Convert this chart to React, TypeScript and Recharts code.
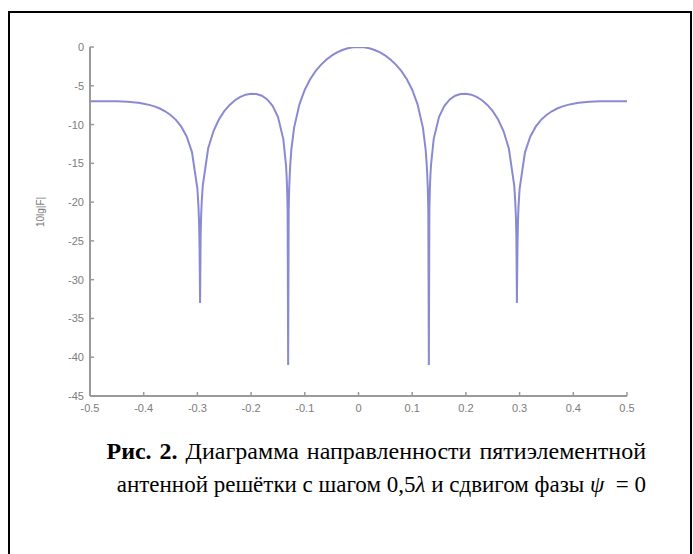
import { LineChart, Line, XAxis, YAxis } from "recharts";

// theta/pi, from -0.5 to 0.5
const xValues = [
  -0.5, -0.49, -0.48, -0.47, -0.46, -0.45, -0.44, -0.43, -0.42, -0.41, -0.4,
  -0.39, -0.38, -0.37, -0.36, -0.35, -0.34, -0.33, -0.32, -0.31, -0.3,
  -0.298, -0.297, -0.296, -0.295, -0.294, -0.293, -0.292,
  -0.29, -0.28, -0.27, -0.26, -0.25, -0.24, -0.23, -0.22, -0.21, -0.2, -0.19,
  -0.18, -0.17, -0.16, -0.15, -0.14,
  -0.135, -0.134, -0.133, -0.132, -0.131, -0.13, -0.129, -0.128, -0.127,
  -0.125, -0.12,
  -0.11, -0.1, -0.09, -0.08, -0.07, -0.06, -0.05, -0.04, -0.03, -0.02, -0.01,
  0, 0.01, 0.02, 0.03, 0.04, 0.05, 0.06, 0.07, 0.08, 0.09, 0.1, 0.11, 0.12,
  0.125, 0.127, 0.128, 0.129, 0.13, 0.131, 0.132, 0.133, 0.134, 0.135,
  0.14, 0.15, 0.16, 0.17, 0.18, 0.19, 0.2, 0.21,
  0.22, 0.23, 0.24, 0.25, 0.26, 0.27, 0.28, 0.29,
  0.292, 0.293, 0.294, 0.295, 0.296, 0.297, 0.298,
  0.3, 0.31, 0.32, 0.33,
  0.34, 0.35, 0.36, 0.37, 0.38, 0.39, 0.4, 0.41, 0.42, 0.43, 0.44, 0.45, 0.46,
  0.47, 0.48, 0.49, 0.5,
];

// 10lg|F|
const levelDb = [
  -6.99, -6.99, -6.99, -6.99, -7.0, -7.01, -7.03, -7.07, -7.12, -7.2, -7.31,
  -7.46, -7.66, -7.93, -8.29, -8.76, -9.39, -10.27, -11.53, -13.58, -18.29,
  -20.55, -22.44, -25.88, -33, -24.39, -21.7, -20.06,
  -17.87, -13.09, -10.83, -9.35, -8.28, -7.47, -6.87, -6.43, -6.15, -6.03, -6.07,
  -6.29, -6.76, -7.59, -9.0, -11.88,
  -15.23, -16.4, -18.1, -21.1, -41, -21.16, -18.1, -16.4, -15.1,
  -13.19, -10.43,
  -7.39, -5.51, -4.16, -3.12, -2.3, -1.64, -1.11, -0.7, -0.39, -0.17, -0.04,
  0, -0.04, -0.17, -0.39, -0.7, -1.11, -1.64, -2.3, -3.12, -4.16, -5.51, -7.39, -10.43,
  -13.19, -15.1, -16.4, -18.1, -21.16, -41, -21.1, -18.1, -16.4, -15.23,
  -11.88, -9.0, -7.59, -6.76, -6.29, -6.07, -6.03, -6.15,
  -6.43, -6.87, -7.47, -8.28, -9.35, -10.83, -13.09, -17.87,
  -20.06, -21.7, -24.39, -33, -25.88, -22.44, -20.55,
  -18.29, -13.58, -11.53, -10.27,
  -9.39, -8.76, -8.29, -7.93, -7.66, -7.46, -7.31, -7.2, -7.12, -7.07, -7.03, -7.01, -7.0,
  -6.99, -6.99, -6.99, -6.99,
];

const xTicks = [-0.5, -0.4, -0.3, -0.2, -0.1, 0, 0.1, 0.2, 0.3, 0.4, 0.5];
const yTicks = [0, -5, -10, -15, -20, -25, -30, -35, -40, -45];

const data = xValues.map((x, i) => ({ x, db: levelDb[i] }));

const axisColor = "#9a9a9a";
const labelColor = "#7c7c7c";
const tickFont = { fontFamily: "Liberation Sans, Arial, sans-serif", fontSize: 11 };

const BottomTick = (props: any) => {
  const { x, y, payload } = props;
  return (
    <g>
      <line x1={x} x2={x} y1={y} y2={y - 4} stroke={axisColor} strokeWidth={1.5} />
      <text x={x} y={y + 16} textAnchor="middle" fill={labelColor} style={tickFont}>
        {payload.value}
      </text>
    </g>
  );
};

const LeftTick = (props: any) => {
  const { x, y, payload } = props;
  return (
    <g>
      <line x1={x} x2={x + 4} y1={y} y2={y} stroke={axisColor} strokeWidth={1.5} />
      <text x={x - 6} y={y + 4} textAnchor="end" fill={labelColor} style={tickFont}>
        {payload.value}
      </text>
    </g>
  );
};

const TopTick = (props: any) => {
  const { x, y } = props;
  return <line x1={x} x2={x} y1={y} y2={y + 4} stroke={axisColor} strokeWidth={1.5} />;
};

const RightTick = (props: any) => {
  const { x, y } = props;
  return <line x1={x} x2={x - 4} y1={y} y2={y} stroke={axisColor} strokeWidth={1.5} />;
};

const captionStyle: React.CSSProperties = {
  position: "absolute",
  left: 0,
  width: 646,
  textAlign: "right",
  fontFamily: "Liberation Serif, Times New Roman, serif",
  fontSize: 23,
  lineHeight: "34px",
  color: "#000",
  whiteSpace: "nowrap",
};

export default function App() {
  return (
    <div style={{ position: "absolute", left: 0, top: 0, width: 693, height: 554, overflow: "hidden", background: "#fff" }}>
      <div
        style={{
          position: "absolute",
          left: 8,
          top: 11,
          width: 684,
          height: 570,
          border: "2px solid #000",
          boxSizing: "border-box",
        }}
      />
      <div style={{ position: "absolute", left: 0, top: 0 }}>
        <LineChart
          width={693}
          height={440}
          data={data}
          margin={{ top: 47, right: 66, bottom: 14, left: 30 }}
        >
          <XAxis
            dataKey="x"
            type="number"
            domain={[-0.5, 0.5]}
            ticks={xTicks}
            allowDataOverflow
            axisLine={{ stroke: axisColor, strokeWidth: 2 }}
            tickLine={false}
            tickSize={0}
            tickMargin={0}
            height={30}
            tick={<BottomTick />}
            interval={0}
          />
          <XAxis
            xAxisId="top"
            orientation="top"
            dataKey="x"
            type="number"
            domain={[-0.5, 0.5]}
            ticks={xTicks}
            allowDataOverflow
            axisLine={{ stroke: axisColor, strokeWidth: 2 }}
            tickLine={false}
            tickSize={0}
            tickMargin={0}
            height={0}
            tick={<TopTick />}
            interval={0}
          />
          <YAxis
            type="number"
            domain={[-45, 0]}
            ticks={yTicks}
            allowDataOverflow
            axisLine={{ stroke: axisColor, strokeWidth: 2 }}
            tickLine={false}
            tickSize={0}
            tickMargin={0}
            width={60}
            tick={<LeftTick />}
            interval={0}
          />
          <YAxis
            yAxisId="right"
            orientation="right"
            type="number"
            domain={[-45, 0]}
            ticks={yTicks}
            allowDataOverflow
            axisLine={{ stroke: axisColor, strokeWidth: 2 }}
            tickLine={false}
            tickSize={0}
            tickMargin={0}
            width={0}
            tick={<RightTick />}
            interval={0}
          />
          <Line
            type="linear"
            dataKey="db"
            stroke="#8a8ad2"
            strokeWidth={2}
            dot={false}
            isAnimationActive={false}
          />
        </LineChart>
      </div>
      <div
        style={{
          position: "absolute",
          left: 40,
          top: 212,
          transform: "translate(-50%, -50%) rotate(-90deg)",
          fontFamily: "Liberation Sans, Arial, sans-serif",
          fontSize: 10,
          color: labelColor,
          whiteSpace: "nowrap",
        }}
      >
        10lg|F|
      </div>
      <div style={{ ...captionStyle, top: 434, fontSize: 24, wordSpacing: 2 }}>
        <b>Рис. 2.</b> Диаграмма направленности пятиэлементной
      </div>
      <div style={{ ...captionStyle, top: 468 }}>
        антенной решётки с шагом 0,5<i>λ</i> и сдвигом фазы <i>ψ</i>&nbsp; = 0
      </div>
    </div>
  );
}
